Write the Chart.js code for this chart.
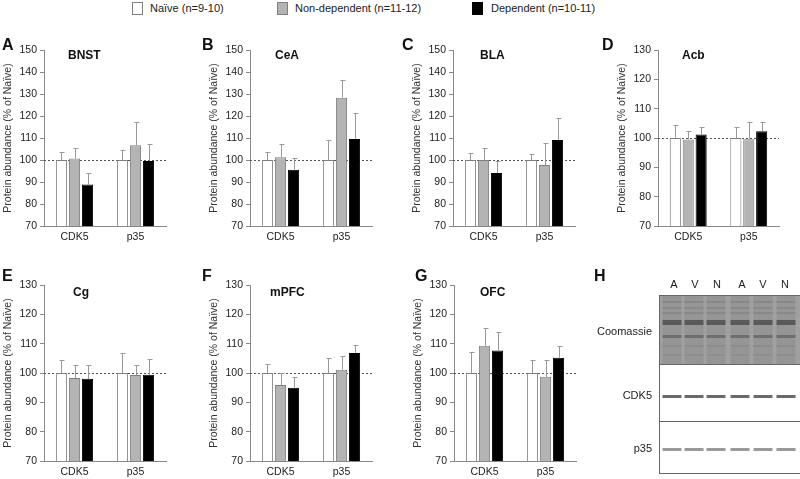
<!DOCTYPE html>
<html>
<head>
<meta charset="utf-8">
<script src="https://cdn.jsdelivr.net/npm/chart.js@4/dist/chart.umd.min.js"></script>
<style>
  html, body { margin:0; padding:0; background:#fff; }
  body { width:800px; height:479px; position:relative; overflow:hidden; font-family:"Liberation Sans", Arial, sans-serif; color:#222; }
  canvas.panel { position:absolute; }
  .lbl { position:absolute; white-space:nowrap; line-height:1; }
  .letter { font-weight:bold; font-size:16px; color:#111; }
  .ptitle { font-weight:bold; font-size:12px; color:#111; }
  .leg { font-size:11px; color:#222; }
  .box { position:absolute; width:11px; height:13px; box-sizing:border-box; border:1px solid #7f7f7f; }
</style>
</head>
<body>
<script>
// ---------- DATA ----------
const categories = ['CDK5', 'p35'];
const groups = ['Naïve (n=9-10)', 'Non-dependent (n=11-12)', 'Dependent (n=10-11)'];
const yTitle = 'Protein abundance (% of Naïve)';

// BNST
const bnstNaive = [100, 100];      const bnstNaiveErr = [3.5, 4.4];
const bnstNonDep = [100.7, 106.7]; const bnstNonDepErr = [4.8, 10.6];
const bnstDep = [88.9, 99.5];      const bnstDepErr = [5.2, 8.0];
// CeA
const ceaNaive = [100, 100];       const ceaNaiveErr = [3.5, 9.1];
const ceaNonDep = [101.3, 128.3];  const ceaNonDepErr = [6.0, 8.1];
const ceaDep = [95.6, 109.6];      const ceaDepErr = [5.3, 11.9];
// BLA
const blaNaive = [100, 100];       const blaNaiveErr = [3.4, 2.7];
const blaNonDep = [100, 97.7];     const blaNonDepErr = [5.3, 10.2];
const blaDep = [94.1, 109.1];      const blaDepErr = [5.6, 10.1];
// Acb
const acbNaive = [100, 100];       const acbNaiveErr = [4.5, 3.8];
const acbNonDep = [99.5, 99.6];    const acbNonDepErr = [2.8, 6.0];
const acbDep = [101.2, 102.3];     const acbDepErr = [2.7, 3.0];
// Cg
const cgNaive = [100, 100];        const cgNaiveErr = [4.4, 6.9];
const cgNonDep = [98.3, 99.3];     const cgNonDepErr = [4.4, 3.4];
const cgDep = [98.0, 99.4];        const cgDepErr = [4.7, 5.4];
// mPFC
const mpfcNaive = [100, 100];      const mpfcNaiveErr = [2.9, 5.1];
const mpfcNonDep = [95.9, 101.1];  const mpfcNonDepErr = [4.0, 4.7];
const mpfcDep = [95.0, 106.8];     const mpfcDepErr = [3.5, 2.6];
// OFC
const ofcNaive = [100, 100];       const ofcNaiveErr = [7.1, 4.4];
const ofcNonDep = [109.3, 98.7];   const ofcNonDepErr = [6.2, 5.6];
const ofcDep = [107.7, 105.2];     const ofcDepErr = [6.2, 4.1];

const blotLanes = ['A', 'V', 'N', 'A', 'V', 'N'];
const blotRows = ['Coomassie', 'CDK5', 'p35'];

// ---------- LAYOUT ----------
const FONT = '"Liberation Sans", Arial, sans-serif';
const fills = ['#ffffff', '#b4b4b4', '#000000'];
const borders = ['#7f7f7f', '#7f7f7f', '#000000'];

const panels = [
  {letter:'A', lx:2,   ly:37,  title:'BNST', tx:68,  ty:49,  L:44,  R:166, T:50,  B:226, max:150, d:[bnstNaive,bnstNonDep,bnstDep], e:[bnstNaiveErr,bnstNonDepErr,bnstDepErr]},
  {letter:'B', lx:202, ly:37,  title:'CeA',  tx:275, ty:49,  L:250, R:372, T:50,  B:226, max:150, d:[ceaNaive,ceaNonDep,ceaDep],    e:[ceaNaiveErr,ceaNonDepErr,ceaDepErr]},
  {letter:'C', lx:402, ly:37,  title:'BLA',  tx:480, ty:49,  L:453, R:575, T:50,  B:226, max:150, d:[blaNaive,blaNonDep,blaDep],    e:[blaNaiveErr,blaNonDepErr,blaDepErr]},
  {letter:'D', lx:602, ly:37,  title:'Acb',  tx:682, ty:49,  L:658, R:779, T:50,  B:226, max:130, d:[acbNaive,acbNonDep,acbDep],    e:[acbNaiveErr,acbNonDepErr,acbDepErr]},
  {letter:'E', lx:2,   ly:268, title:'Cg',   tx:73,  ty:286, L:44,  R:166, T:285, B:461, max:130, d:[cgNaive,cgNonDep,cgDep],       e:[cgNaiveErr,cgNonDepErr,cgDepErr]},
  {letter:'F', lx:202, ly:268, title:'mPFC', tx:270, ty:286, L:250, R:372, T:285, B:461, max:130, d:[mpfcNaive,mpfcNonDep,mpfcDep], e:[mpfcNaiveErr,mpfcNonDepErr,mpfcDepErr]},
  {letter:'G', lx:415, ly:268, title:'OFC',  tx:480, ty:286, L:454, R:576, T:285, B:461, max:130, d:[ofcNaive,ofcNonDep,ofcDep],    e:[ofcNaiveErr,ofcNonDepErr,ofcDepErr]},
];

function addLabel(text, cls, x, y, extra) {
  const el = document.createElement('div');
  el.className = 'lbl ' + cls;
  el.textContent = text;
  el.style.left = x + 'px';
  el.style.top = y + 'px';
  if (extra) Object.assign(el.style, extra);
  document.body.appendChild(el);
  return el;
}

// legend
const legX = [[132, 150], [277, 295], [472, 491]];
groups.forEach((g, i) => {
  const b = document.createElement('div');
  b.className = 'box';
  b.style.left = legX[i][0] + 'px';
  b.style.top = '2px';
  b.style.background = fills[i];
  b.style.borderColor = i === 2 ? '#000' : '#7f7f7f';
  document.body.appendChild(b);
  addLabel(g, 'leg', legX[i][1], 3);
});

const refPlugin = {
  id: 'refAndErr',
  beforeDatasetsDraw(chart) {
    const {ctx, chartArea: a, scales: {y}} = chart;
    const py = Math.round(y.getPixelForValue(100)) + 0.5;
    ctx.save();
    ctx.setLineDash([2, 2]);
    ctx.strokeStyle = '#555';
    ctx.lineWidth = 1;
    ctx.beginPath();
    ctx.moveTo(a.left, py);
    ctx.lineTo(a.right, py);
    ctx.stroke();
    ctx.restore();
  },
  afterDatasetsDraw(chart) {
    const {ctx, scales: {y}} = chart;
    ctx.save();
    ctx.strokeStyle = '#999';
    ctx.lineWidth = 1;
    chart.data.datasets.forEach((ds, i) => {
      const meta = chart.getDatasetMeta(i);
      meta.data.forEach((bar, j) => {
        const top = Math.round(y.getPixelForValue(ds.data[j] + ds.errors[j])) + 0.5;
        const x = Math.round(bar.x) + 0.5;
        ctx.beginPath();
        ctx.moveTo(x, bar.y);
        ctx.lineTo(x, top);
        ctx.moveTo(x - 2, top);
        ctx.lineTo(x + 3, top);
        ctx.stroke();
      });
    });
    ctx.restore();
  }
};

const YW = 42, XH = 30, PT = 20, PR = 8;
panels.forEach(p => {
  const cv = document.createElement('canvas');
  cv.className = 'panel';
  const cl = p.L - YW, ct = p.T - PT;
  const w = YW + (p.R - p.L) + PR, h = PT + (p.B - p.T) + XH;
  cv.width = w; cv.height = h;
  cv.style.left = cl + 'px'; cv.style.top = ct + 'px';
  cv.style.width = w + 'px'; cv.style.height = h + 'px';
  document.body.appendChild(cv);

  addLabel(p.letter, 'letter', p.lx, p.ly);
  addLabel(p.title, 'ptitle', p.tx, p.ty);

  new Chart(cv, {
    type: 'bar',
    data: {
      labels: categories,
      datasets: p.d.map((vals, i) => ({
        label: groups[i],
        data: vals,
        errors: p.e[i],
        backgroundColor: fills[i],
        borderColor: borders[i],
        borderWidth: 1,
        categoryPercentage: 0.64,
        barPercentage: 0.86
      }))
    },
    options: {
      responsive: false,
      animation: false,
      devicePixelRatio: 1,
      layout: {padding: {left: 0, top: PT, right: PR, bottom: 0}},
      plugins: {legend: {display: false}, tooltip: {enabled: false}, title: {display: false}},
      scales: {
        x: {
          grid: {display: false, drawTicks: false},
          border: {display: true, color: '#888', width: 1},
          ticks: {color: '#222', font: {family: FONT, size: 10.5}, padding: 5, maxRotation: 0},
          afterFit(s) { s.height = XH; }
        },
        y: {
          min: 70, max: p.max,
          grid: {display: true, drawOnChartArea: false, drawTicks: true, tickLength: 4, color: '#888'},
          border: {display: true, color: '#888', width: 1},
          ticks: {stepSize: 10, color: '#222', font: {family: FONT, size: 10.5}, padding: 3},
          title: {display: true, text: yTitle, color: '#333', font: {family: FONT, size: 10.5}, padding: {top: 0, bottom: 0}},
          afterFit(s) { s.width = YW; }
        }
      }
    },
    plugins: [refPlugin]
  });
});

// ---------- Panel H (blot image) ----------
addLabel('H', 'letter', 594, 268);
(function drawBlot() {
  const OX = 560, OY = 250;
  const cv = document.createElement('canvas');
  cv.className = 'panel';
  cv.width = 240; cv.height = 229;
  cv.style.left = OX + 'px'; cv.style.top = OY + 'px';
  cv.style.width = '240px'; cv.style.height = '229px';
  document.body.appendChild(cv);
  const ctx = cv.getContext('2d');
  const x0 = 659 - OX, x1 = 800 - OX, yC0 = 45, yC1 = 114, yK1 = 171, yP1 = 223;
  const centers = [672, 694, 716, 740, 763, 786].map(v => v - OX);
  const bw = 19;
  // Coomassie background
  ctx.fillStyle = '#a0a0a0';
  ctx.fillRect(x0, yC0, x1 - x0, yC1 - yC0);
  centers.forEach(c => {
    ctx.fillStyle = '#959595';
    ctx.fillRect(c - bw / 2, yC0, bw, yC1 - yC0);
    const bands = [[51, 2, '#888888'], [57, 2, '#8a8a8a'], [62, 2, '#888888'], [70, 5, '#5a5a5a'], [85, 3, '#6e6e6e'], [95, 2, '#8c8c8c'], [104, 2, '#8e8e8e']];
    bands.forEach(([y, t, col]) => { ctx.fillStyle = col; ctx.fillRect(c - bw / 2, y, bw, t); });
  });
  // CDK5 / p35 sections
  ctx.fillStyle = '#fff';
  ctx.fillRect(x0, yC1, x1 - x0, yP1 - yC1);
  centers.forEach(c => {
    ctx.fillStyle = '#6a6a6a';
    ctx.fillRect(c - bw / 2, 145, bw, 3);
    ctx.fillStyle = '#9a9a9a';
    ctx.fillRect(c - bw / 2, 198, bw, 3);
  });
  ctx.strokeStyle = '#666';
  ctx.lineWidth = 1;
  ctx.strokeRect(x0 + 0.5, yC0 + 0.5, x1 - x0, yP1 - yC0);
  ctx.beginPath();
  ctx.moveTo(x0, yC1 + 0.5); ctx.lineTo(x1, yC1 + 0.5);
  ctx.moveTo(x0, yK1 + 0.5); ctx.lineTo(x1, yK1 + 0.5);
  ctx.stroke();
  // lane labels
  ctx.fillStyle = '#222';
  ctx.font = '11px ' + FONT;
  ctx.textAlign = 'center';
  ctx.textBaseline = 'middle';
  const laneX = [674, 695, 717, 742, 763, 785].map(v => v - OX);
  blotLanes.forEach((l, i) => ctx.fillText(l, laneX[i], 35));
  ctx.textAlign = 'right';
  const rowY = [82, 146, 199];
  blotRows.forEach((r, i) => ctx.fillText(r, 652 - OX, rowY[i]));
})();
</script>
</body>
</html>
